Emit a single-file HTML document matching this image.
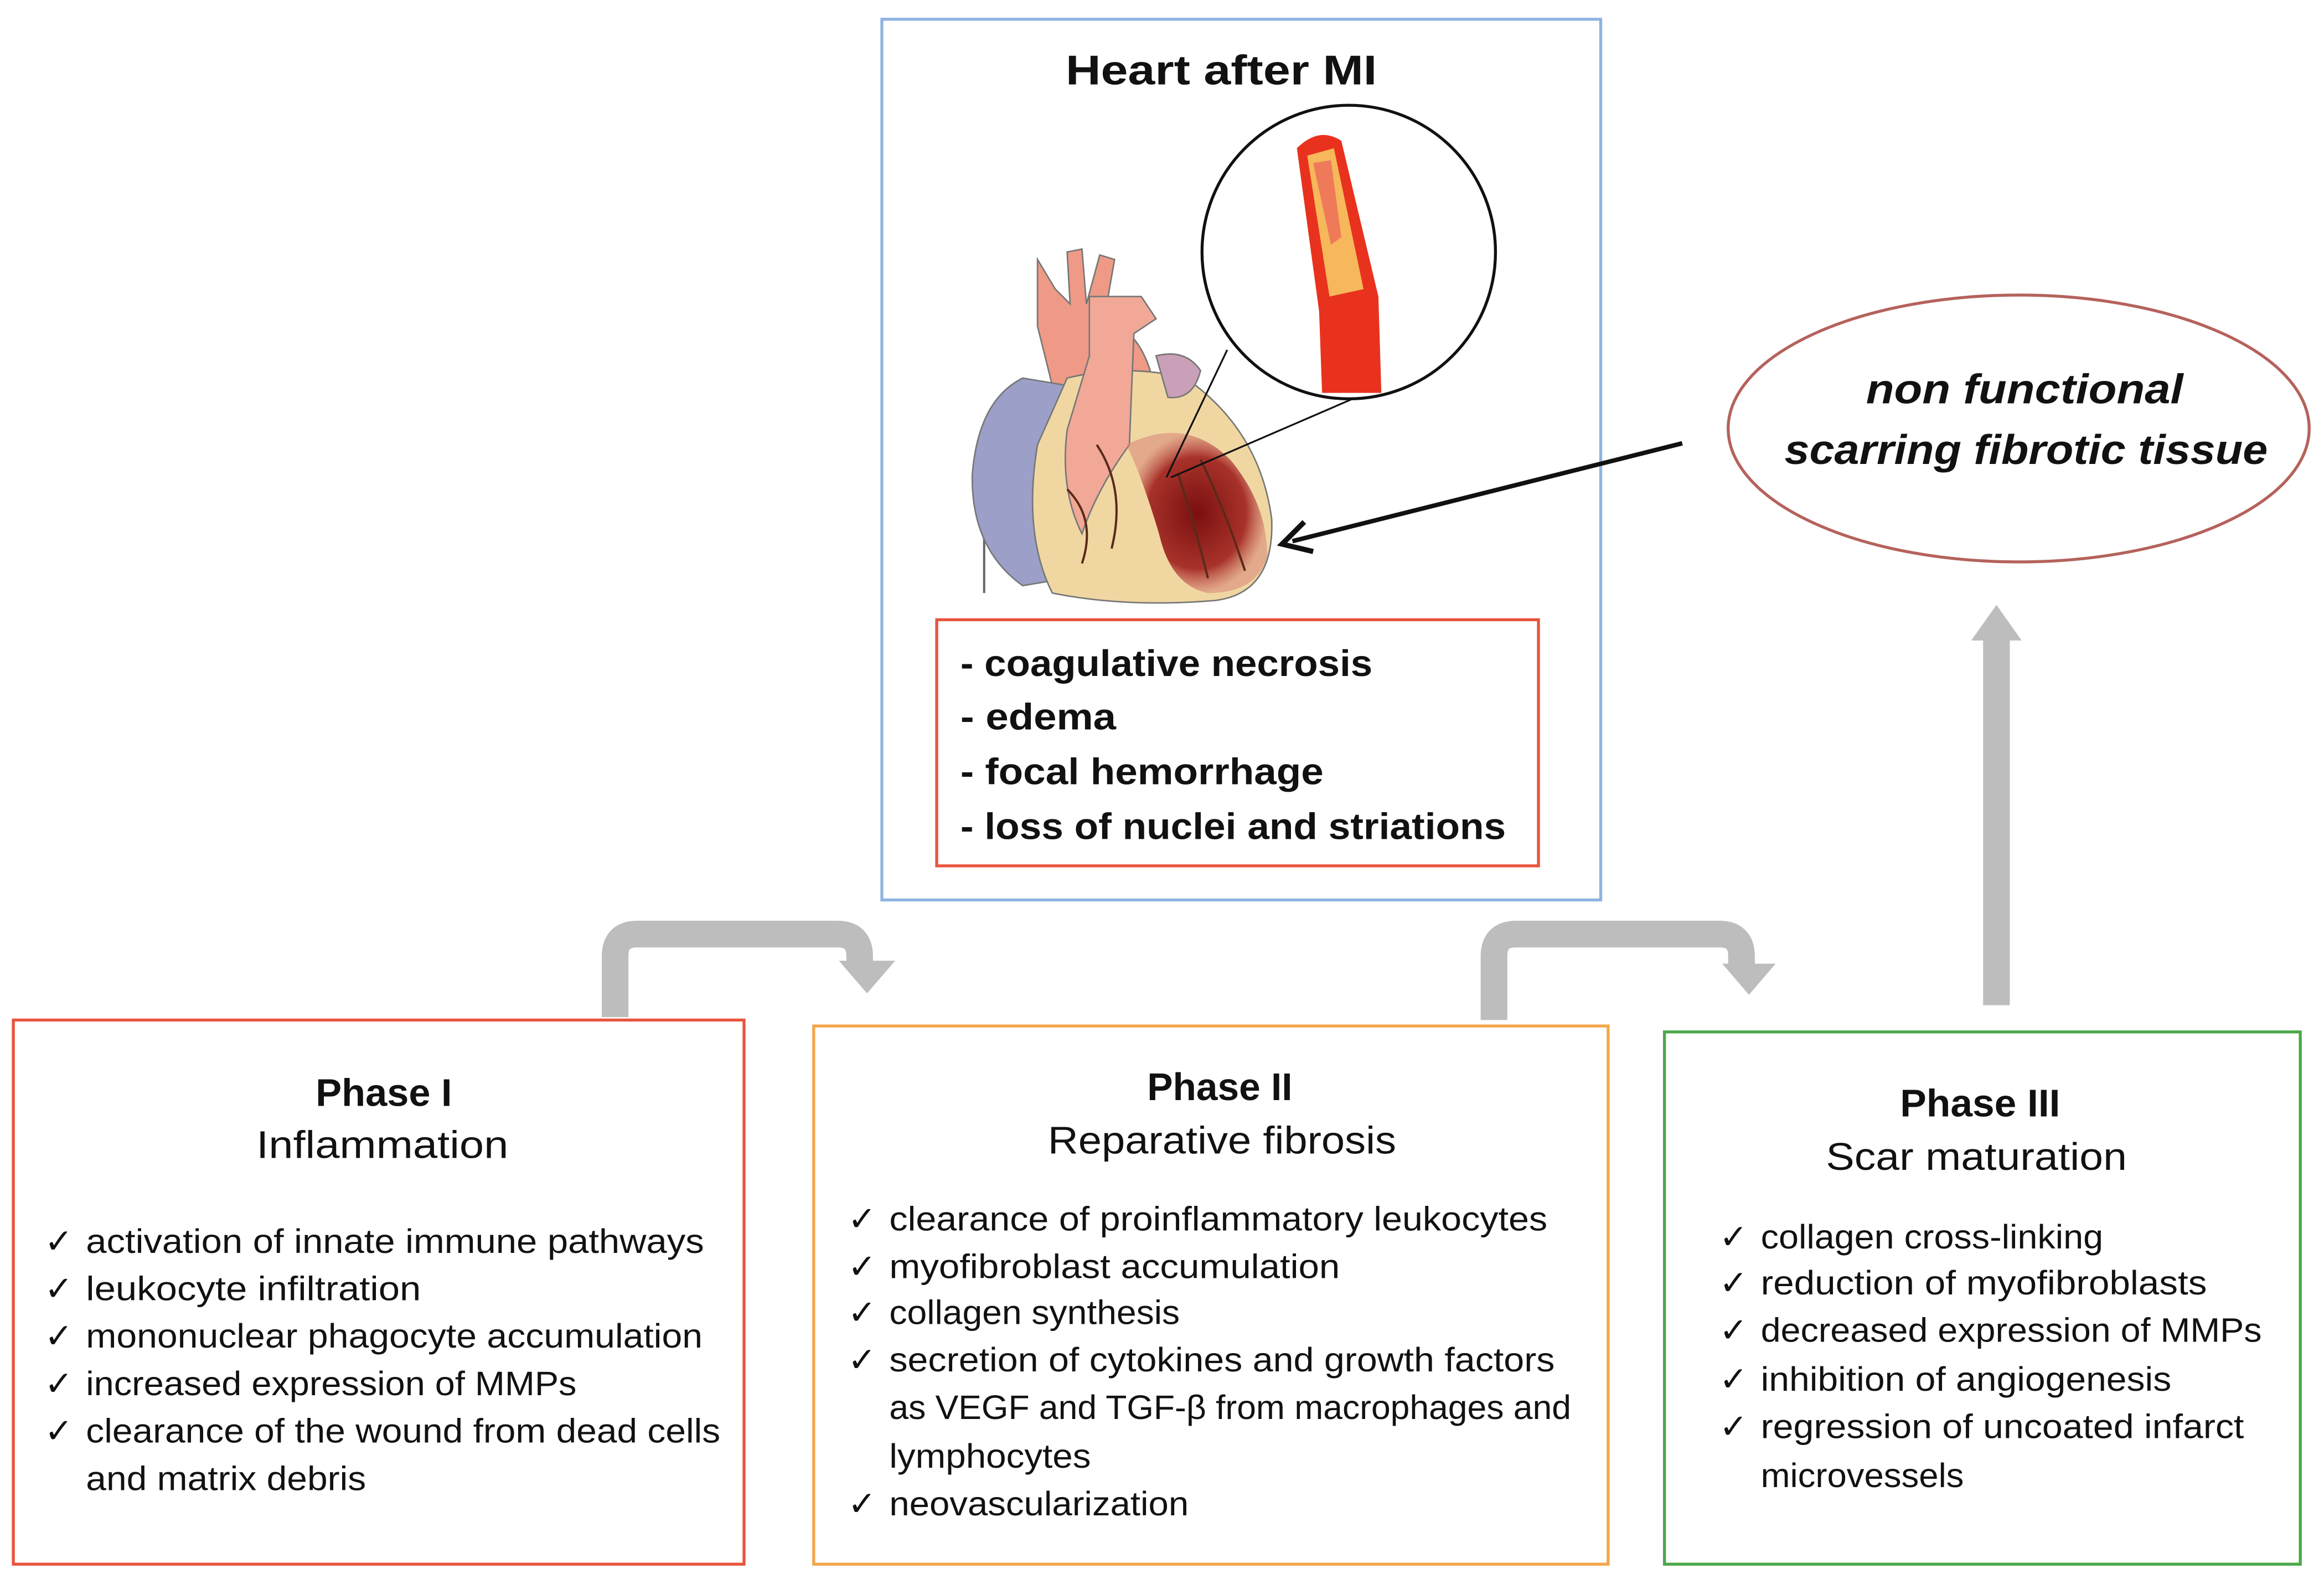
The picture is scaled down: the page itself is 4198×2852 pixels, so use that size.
<!DOCTYPE html>
<html><head><meta charset="utf-8"><style>
html,body{margin:0;padding:0;background:#fff}
svg{display:block}
text{font-family:"Liberation Sans",sans-serif;fill:#111}
.it{font-size:23px}
.b{font-weight:bold}
</style></head><body>
<svg width="4198" height="2852" viewBox="0 0 1568 1065" preserveAspectRatio="none" xmlns="http://www.w3.org/2000/svg">
<defs>
<radialGradient id="inf" cx="0.5" cy="0.5" r="0.5"><stop offset="0" stop-color="#7a0f0f"/><stop offset="0.7" stop-color="#a8322a"/><stop offset="1" stop-color="#d98a7a" stop-opacity="0.6"/></radialGradient>
</defs>
<rect x="595" y="13" width="485" height="594" fill="#fff" stroke="#8eb4e3" stroke-width="2"/>
<text x="719" y="57" class="b" font-size="28" textLength="210" lengthAdjust="spacingAndGlyphs">Heart after MI</text>
<line x1="664" y1="300" x2="664" y2="400" stroke="#666" stroke-width="1.5"/>
<path d="M700 175 L712 195 L722 205 L720 170 L730 168 L733 205 L742 172 L752 175 L745 215 Q775 225 780 270 L770 300 L720 300 L700 220 Z" fill="#ef9a86" stroke="#777" stroke-width="1"/>
<path d="M690 255 Q660 270 656 320 Q655 370 690 395 L720 390 L720 260 Z" fill="#9c9fc8" stroke="#777" stroke-width="1"/>
<path d="M720 255 Q760 245 800 255 Q850 290 858 350 Q860 400 820 405 Q760 410 710 400 Q690 360 700 300 Z" fill="#f0d7a2" stroke="#777" stroke-width="1"/>
<path d="M735 200 L770 200 L780 215 L765 225 L762 300 Q740 330 730 360 Q715 330 720 290 L735 240 Z" fill="#f1a897" stroke="#777" stroke-width="1"/>
<path d="M760 300 Q800 280 830 310 Q855 340 855 375 Q848 400 815 400 Q790 395 782 360 Q770 320 760 300 Z" fill="url(#inf)"/>
<path d="M780 240 Q800 235 810 250 Q805 270 788 268 Z" fill="#c9a0b8" stroke="#777" stroke-width="1"/>
<g stroke="#5a2a1a" stroke-width="1.5" fill="none"><path d="M795 320 Q805 350 815 390"/><path d="M810 310 Q825 340 840 385"/><path d="M740 300 Q760 330 750 370"/><path d="M720 330 Q740 350 730 380"/></g>
<line x1="828" y1="236" x2="787" y2="322" stroke="#111" stroke-width="1.2"/>
<line x1="915" y1="268" x2="790" y2="322" stroke="#111" stroke-width="1.2"/>
<circle cx="910" cy="170" r="99" fill="#fff" stroke="#111" stroke-width="2"/>
<path d="M875 100 Q890 85 905 95 L930 200 L932 265 L892 265 L890 210 Z" fill="#e8321e"/>
<path d="M882 105 L900 100 L920 195 L897 200 Z" fill="#f6b85a"/>
<path d="M886 110 L898 108 L905 160 L898 165 Z" fill="#ef7a5a"/>
<rect x="632" y="418" width="406" height="166" fill="#fff" stroke="#e8553e" stroke-width="2"/>
<text x="648" y="456" class="b" font-size="25" textLength="278" lengthAdjust="spacingAndGlyphs">- coagulative necrosis</text>
<text x="648" y="492" class="b" font-size="25" textLength="105" lengthAdjust="spacingAndGlyphs">- edema</text>
<text x="648" y="529" class="b" font-size="25" textLength="245" lengthAdjust="spacingAndGlyphs">- focal hemorrhage</text>
<text x="648" y="566" class="b" font-size="25" textLength="368" lengthAdjust="spacingAndGlyphs">- loss of nuclei and striations</text>
<ellipse cx="1362" cy="289" rx="196" ry="90" fill="#fff" stroke="#b5625c" stroke-width="2"/>
<text x="1259" y="272" class="b" font-style="italic" font-size="28" textLength="214" lengthAdjust="spacingAndGlyphs">non functional</text>
<text x="1204" y="313" class="b" font-style="italic" font-size="28" textLength="326" lengthAdjust="spacingAndGlyphs">scarring fibrotic tissue</text>
<line x1="1135" y1="299" x2="872" y2="365" stroke="#111" stroke-width="3"/>
<path d="M880 352 L865 367 L886 372" fill="none" stroke="#111" stroke-width="3.5"/>
<g fill="none" stroke="#bdbdbd" stroke-width="18">
<path d="M415 686 L415 645 Q415 630 430 630 L565 630 Q580 630 580 645 L580 650"/>
<path d="M1008 688 L1008 645 Q1008 630 1023 630 L1160 630 Q1175 630 1175 645 L1175 652"/>
<path d="M1347 678 L1347 428"/>
</g>
<path d="M566 648 L604 648 L585 670 Z" fill="#bdbdbd"/>
<path d="M1162 650 L1198 650 L1180 671 Z" fill="#bdbdbd"/>
<path d="M1330 432 L1364 432 L1347 408 Z" fill="#bdbdbd"/>
<rect x="9" y="688" width="493" height="367" fill="#fff" stroke="#e8553e" stroke-width="2"/>
<rect x="549" y="692" width="536" height="363" fill="#fff" stroke="#f3a64a" stroke-width="2"/>
<rect x="1123" y="696" width="429" height="359" fill="#fff" stroke="#4aa84a" stroke-width="2"/>
<text x="213" y="746" class="b" font-size="26" textLength="92" lengthAdjust="spacingAndGlyphs">Phase I</text>
<text x="173" y="781" font-size="26" textLength="170" lengthAdjust="spacingAndGlyphs">Inflammation</text>
<g class="it">
<text x="30" y="845">✓</text><text x="58" y="845" textLength="417" lengthAdjust="spacingAndGlyphs">activation of innate immune pathways</text>
<text x="30" y="877">✓</text><text x="58" y="877" textLength="226" lengthAdjust="spacingAndGlyphs">leukocyte infiltration</text>
<text x="30" y="909">✓</text><text x="58" y="909" textLength="416" lengthAdjust="spacingAndGlyphs">mononuclear phagocyte accumulation</text>
<text x="30" y="941">✓</text><text x="58" y="941" textLength="331" lengthAdjust="spacingAndGlyphs">increased expression of MMPs</text>
<text x="30" y="973">✓</text><text x="58" y="973" textLength="428" lengthAdjust="spacingAndGlyphs">clearance of the wound from dead cells</text>
<text x="58" y="1005" textLength="189" lengthAdjust="spacingAndGlyphs">and matrix debris</text>
</g>
<text x="774" y="742" class="b" font-size="26" textLength="98" lengthAdjust="spacingAndGlyphs">Phase II</text>
<text x="707" y="778" font-size="26" textLength="235" lengthAdjust="spacingAndGlyphs">Reparative fibrosis</text>
<g class="it">
<text x="572" y="830">✓</text><text x="600" y="830" textLength="444" lengthAdjust="spacingAndGlyphs">clearance of proinflammatory leukocytes</text>
<text x="572" y="862">✓</text><text x="600" y="862" textLength="304" lengthAdjust="spacingAndGlyphs">myofibroblast accumulation</text>
<text x="572" y="893">✓</text><text x="600" y="893" textLength="196" lengthAdjust="spacingAndGlyphs">collagen synthesis</text>
<text x="572" y="925">✓</text><text x="600" y="925" textLength="449" lengthAdjust="spacingAndGlyphs">secretion of cytokines and growth factors</text>
<text x="600" y="957" textLength="460" lengthAdjust="spacingAndGlyphs">as VEGF and TGF-β from macrophages and</text>
<text x="600" y="990" textLength="136" lengthAdjust="spacingAndGlyphs">lymphocytes</text>
<text x="572" y="1022">✓</text><text x="600" y="1022" textLength="202" lengthAdjust="spacingAndGlyphs">neovascularization</text>
</g>
<text x="1282" y="753" class="b" font-size="26" textLength="108" lengthAdjust="spacingAndGlyphs">Phase III</text>
<text x="1232" y="789" font-size="26" textLength="203" lengthAdjust="spacingAndGlyphs">Scar maturation</text>
<g class="it">
<text x="1160" y="842">✓</text><text x="1188" y="842" textLength="231" lengthAdjust="spacingAndGlyphs">collagen cross-linking</text>
<text x="1160" y="873">✓</text><text x="1188" y="873" textLength="301" lengthAdjust="spacingAndGlyphs">reduction of myofibroblasts</text>
<text x="1160" y="905">✓</text><text x="1188" y="905" textLength="338" lengthAdjust="spacingAndGlyphs">decreased expression of MMPs</text>
<text x="1160" y="938">✓</text><text x="1188" y="938" textLength="277" lengthAdjust="spacingAndGlyphs">inhibition of angiogenesis</text>
<text x="1160" y="970">✓</text><text x="1188" y="970" textLength="326" lengthAdjust="spacingAndGlyphs">regression of uncoated infarct</text>
<text x="1188" y="1003" textLength="137" lengthAdjust="spacingAndGlyphs">microvessels</text>
</g>
</svg>
</body></html>
